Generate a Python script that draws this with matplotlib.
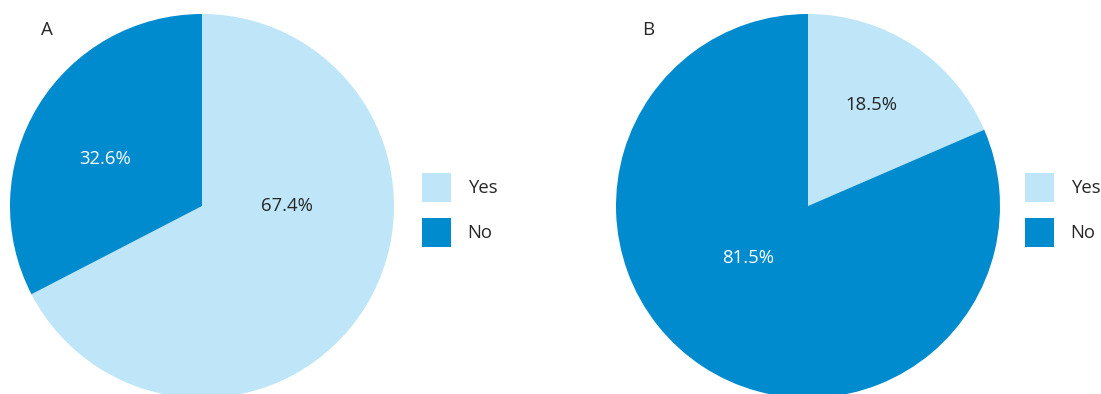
import matplotlib
matplotlib.use("Agg")
import matplotlib.pyplot as plt
from matplotlib.patches import Patch
import numpy as np

plt.rcParams['font.family'] = ['Open Sans', 'DejaVu Sans']

categories = ["Yes", "No"]
values_a = [67.4, 32.6]
values_b = [18.5, 81.5]
panel_titles = ["A", "B"]
colors = ["#BEE6F8", "#008BCE"]
label_colors = ["#262626", "#FFFFFF"]

W, H = 1101, 394
fig = plt.figure(figsize=(W / 100, H / 100), dpi=100)

# label positions (radius fraction, angle in degrees) per panel
label_pos = [
    [(0.44, 0.0), (0.56, 154.0)],
    [(0.62, 57.6), (0.41, 221.0)],
]

panels = [(values_a, 10, 47, 422), (values_b, 616, 648, 1025)]
for i, (vals, left, tx, lx) in enumerate(panels):
    ax = fig.add_axes([left / W, -4 / H, 384 / W, 384 / H])
    wedges, _ = ax.pie(vals, colors=colors, startangle=90, counterclock=False,
                       radius=1.0, wedgeprops=dict(linewidth=0))
    ax.set_xlim(-1, 1)
    ax.set_ylim(-1, 1)
    ax.set_aspect('equal')
    ax.axis('off')
    for j, v in enumerate(vals):
        r, ang = label_pos[i][j]
        x = r * np.cos(np.radians(ang))
        y = r * np.sin(np.radians(ang))
        ax.text(x, y, f"{v:.1f}%", ha='center', va='center',
                fontsize=13.3, color=label_colors[j])
    fig.text(tx / W, 1 - 30 / H, panel_titles[i], ha='center', va='center',
             fontsize=13.5, color="#262626")
    handles = [Patch(facecolor=c, edgecolor='none') for c in colors]
    fig.legend(handles, categories, loc='upper left',
               bbox_to_anchor=(lx / W, 1 - 173 / H), bbox_transform=fig.transFigure,
               frameon=False, borderpad=0, borderaxespad=0,
               handlelength=1.57, handleheight=2.035, labelspacing=0.86,
               handletextpad=0.9, fontsize=13.3, labelcolor="#262626")

fig.savefig("out.png", dpi=100)
